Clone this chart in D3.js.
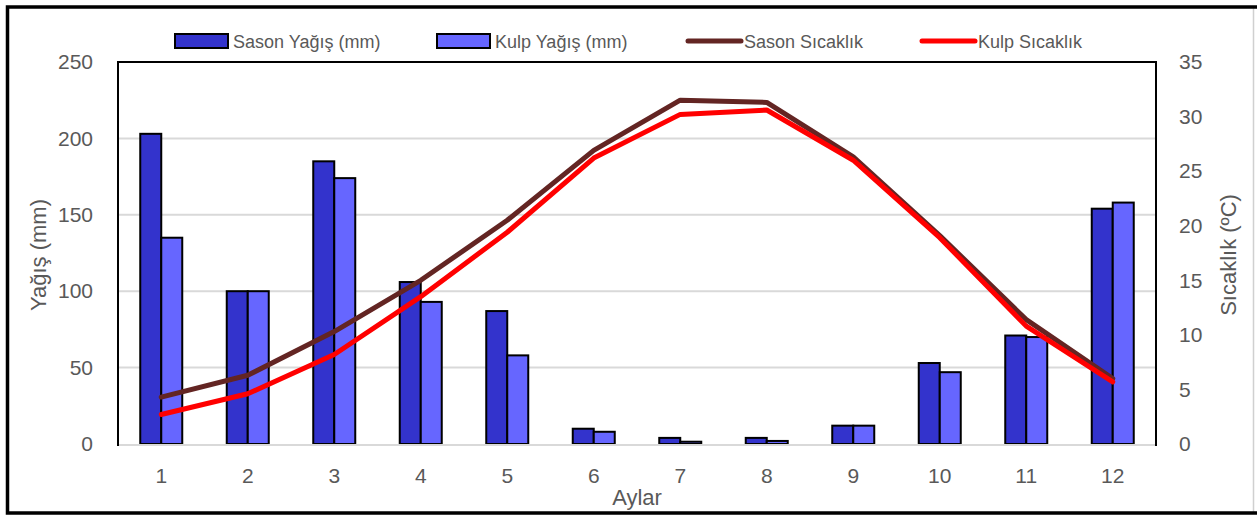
<!DOCTYPE html>
<html>
<head>
<meta charset="utf-8">
<script src="https://cdn.jsdelivr.net/npm/d3@7"></script>
<style>
  body { margin: 0; background: #fff; }
  svg text { font-family: "Liberation Sans", Arial, sans-serif; fill: #595959; }
</style>
</head>
<body>
<svg id="chart"></svg>
<script>
// months and values
var months = ["1", "2", "3", "4", "5", "6", "7", "8", "9", "10", "11", "12"]
var sasonYagis = [203, 100, 185, 106, 87, 10, 4, 4, 12, 53, 71, 154]
var kulpYagis = [135, 100, 174, 93, 58, 8, 1.5, 2, 12, 47, 70, 158]
var sasonSicaklik = [4.3, 6.3, 10.3, 15.0, 20.5, 26.9, 31.5, 31.3, 26.3, 19.1, 11.4, 6.0]
var kulpSicaklik = [2.7, 4.6, 8.2, 13.5, 19.4, 26.2, 30.2, 30.6, 26.0, 18.9, 10.8, 5.7]
var yagisTicks = [0, 50, 100, 150, 200, 250]
var sicaklikTicks = [0, 5, 10, 15, 20, 25, 30, 35]

var width = 1257,
  height = 517,
  plot = { left: 118, right: 1156, top: 62, bottom: 444 }

var svg = d3.select("#chart")
  .attr("width", width)
  .attr("height", height)

// outer frame
svg.append("rect")
  .attr("x", 7.5).attr("y", 6.5)
  .attr("width", 1246).attr("height", 506.5)
  .style("fill", "#fff")
  .style("stroke", "none")
svg.append("path")
  .attr("d", "M1253.5,7 V513")
  .style("stroke", "#d0d0d0").style("stroke-width", 1.5)
svg.append("path")
  .attr("d", "M1257,7 H7.5 V513 H1257")
  .style("fill", "none").style("stroke", "#000").style("stroke-width", 3.5)

var x = d3.scaleBand()
  .domain(months)
  .range([plot.left, plot.right])

var yLeft = d3.scaleLinear()
  .domain([0, 250])
  .range([plot.bottom, plot.top])

var yRight = d3.scaleLinear()
  .domain([0, 35])
  .range([plot.bottom, plot.top])

// gridlines
svg.append("g")
  .selectAll("line")
  .data(yagisTicks.slice(1, -1))
  .enter()
  .append("line")
  .attr("x1", plot.left).attr("x2", plot.right)
  .attr("y1", function (d) { return yLeft(d) })
  .attr("y2", function (d) { return yLeft(d) })
  .style("stroke", "#d9d9d9").style("stroke-width", 2)

// bars
var barW = 21
var bars = svg.append("g")
bars.selectAll("rect.sason")
  .data(sasonYagis)
  .enter()
  .append("rect")
  .attr("class", "sason")
  .attr("x", function (d, i) { return x(months[i]) + x.bandwidth() / 2 - barW })
  .attr("y", function (d) { return yLeft(d) })
  .attr("width", barW)
  .attr("height", function (d) { return yLeft(0) - yLeft(d) })
  .style("fill", "#3333cc")
  .style("stroke", "#000").style("stroke-width", 2)

bars.selectAll("rect.kulp")
  .data(kulpYagis)
  .enter()
  .append("rect")
  .attr("class", "kulp")
  .attr("x", function (d, i) { return x(months[i]) + x.bandwidth() / 2 })
  .attr("y", function (d) { return yLeft(d) })
  .attr("width", barW)
  .attr("height", function (d) { return yLeft(0) - yLeft(d) })
  .style("fill", "#6666ff")
  .style("stroke", "#000").style("stroke-width", 2)

// x axis line (gray)
svg.append("line")
  .attr("x1", plot.left).attr("x2", plot.right)
  .attr("y1", plot.bottom + 1).attr("y2", plot.bottom + 1)
  .style("stroke", "#d9d9d9").style("stroke-width", 2)

// plot area border: left, top, right
svg.append("path")
  .attr("d", "M" + plot.left + "," + (plot.bottom + 2) + " V" + plot.top + " H" + plot.right + " V" + (plot.bottom + 2))
  .style("fill", "none").style("stroke", "#000").style("stroke-width", 2)

// temperature lines
var line = function (vals) {
  return d3.line()
    .x(function (d, i) { return x(months[i]) + x.bandwidth() / 2 })
    .y(function (d) { return yRight(d) })(vals)
}
svg.append("path")
  .attr("d", line(sasonSicaklik))
  .style("fill", "none").style("stroke", "#632523").style("stroke-width", 5)
  .style("stroke-linejoin", "round").style("stroke-linecap", "round")
svg.append("path")
  .attr("d", line(kulpSicaklik))
  .style("fill", "none").style("stroke", "#ff0000").style("stroke-width", 5)
  .style("stroke-linejoin", "round").style("stroke-linecap", "round")

// axes
var xAxis = svg.append("g")
  .attr("transform", "translate(0," + plot.bottom + ")")
  .call(d3.axisBottom(x).tickSize(0).tickPadding(24))
var leftAxis = svg.append("g")
  .attr("transform", "translate(" + plot.left + ",0)")
  .call(d3.axisLeft(yLeft).tickValues(yagisTicks).tickSize(0).tickPadding(25))
var rightAxis = svg.append("g")
  .attr("transform", "translate(" + plot.right + ",0)")
  .call(d3.axisRight(yRight).tickValues(sicaklikTicks).tickSize(0).tickPadding(23))

;[xAxis, leftAxis, rightAxis].forEach(function (a) {
  a.select(".domain").remove()
  a.selectAll("text")
    .style("font-size", "21px")
    .style("font-family", "'Liberation Sans', Arial, sans-serif")
    .attr("fill", "#595959")
})

// axis titles
svg.append("text")
  .attr("x", (plot.left + plot.right) / 2).attr("y", 505)
  .attr("text-anchor", "middle")
  .style("font-size", "22px")
  .text("Aylar")
svg.append("text")
  .attr("transform", "translate(46,255) rotate(-90)")
  .attr("text-anchor", "middle")
  .style("font-size", "22px")
  .text("Yağış (mm)")
svg.append("text")
  .attr("transform", "translate(1236,255) rotate(-90)")
  .attr("text-anchor", "middle")
  .style("font-size", "22px")
  .text("Sıcaklık (ºC)")

// legend
var legend = [
  { name: "Sason Yağış (mm)", type: "bar", color: "#3333cc", x: 175 },
  { name: "Kulp Yağış (mm)", type: "bar", color: "#6666ff", x: 437 },
  { name: "Sason Sıcaklık", type: "line", color: "#632523", x: 686 },
  { name: "Kulp Sıcaklık", type: "line", color: "#ff0000", x: 920 }
]
var items = svg.append("g").selectAll("g")
  .data(legend)
  .enter()
  .append("g")
  .attr("transform", function (d) { return "translate(" + d.x + ",41)" })

items.filter(function (d) { return d.type == "bar" })
  .append("rect")
  .attr("x", 0).attr("y", -7)
  .attr("width", 53).attr("height", 14)
  .style("fill", function (d) { return d.color })
  .style("stroke", "#000").style("stroke-width", 2)

items.filter(function (d) { return d.type == "line" })
  .append("line")
  .attr("x1", 2).attr("x2", 55)
  .style("stroke", function (d) { return d.color })
  .style("stroke-width", 5).style("stroke-linecap", "round")

items.append("text")
  .attr("x", 58).attr("y", 6.5)
  .style("font-size", "18px")
  .text(function (d) { return d.name })
</script>
</body>
</html>
